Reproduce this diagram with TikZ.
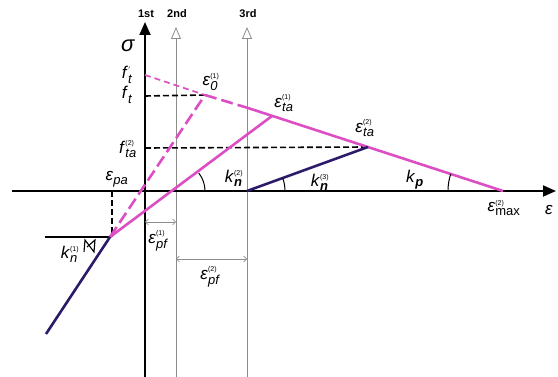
\documentclass[tikz,border=0pt]{standalone}
\usepackage{fontspec}
\setmainfont{Liberation Sans}
\usetikzlibrary{arrows.meta, angles}
\definecolor{curvepink}{RGB}{220,78,196}
\definecolor{curvenavy}{RGB}{45,25,105}
\newcommand{\lab}[3]{\textit{#1}$_{\hbox{\fontsize{13}{13}\selectfont\itshape #2}}^{\hbox{\fontsize{7}{7}\selectfont #3}}$}

\begin{document}
\begin{tikzpicture}[x=1pt, y=-1pt,
  axis/.style={line width=1.8pt, -{Triangle[length=13pt, width=11pt]}},
  guide/.style={black!45, line width=0.8pt, -{Triangle[open, length=12pt, width=10pt]}},
  pinkline/.style={curvepink, line width=2.6pt},
  navyline/.style={curvenavy, line width=2.6pt},
  refline/.style={line width=1.6pt, dash pattern=on 6pt off 3pt},
  dimarr/.style={black!45, line width=0.6pt, {Straight Barb[length=3pt]}-{Straight Barb[length=3pt]}},
  lbl/.style={font=\fontsize{17}{17}\selectfont, inner sep=0pt},
  head/.style={font=\bfseries\fontsize{11}{11}\selectfont, inner sep=0pt},
  mark/.style={line width=1pt, angle radius=#1}
]
\useasboundingbox (0,0) rectangle (558,377);

\coordinate (axL) at (12,191);
\coordinate (axR) at (556,191);
\coordinate (axB) at (145,377);
\coordinate (axT) at (145,22);
\coordinate (g2B) at (176,377);
\coordinate (g2T) at (176,27);
\coordinate (g3B) at (247,377);
\coordinate (g3T) at (247,27);
\coordinate (O2) at (176,191);
\coordinate (O3) at (247,191);
\coordinate (ftp) at (145,75);
\coordinate (ft) at (145,96);
\coordinate (fta) at (145,148);
\coordinate (E0) at (205,95);
\coordinate (Emid) at (248,108);
\coordinate (Eta1) at (272,116);
\coordinate (Eta2) at (368,147);
\coordinate (Emax) at (503,191);
\coordinate (knee) at (110,237);
\coordinate (kneeL) at (45,237);
\coordinate (kneeT) at (112,191);
\coordinate (kneeB) at (112,237);
\coordinate (low) at (46,334);
\coordinate (pf1L) at (145,222);
\coordinate (pf1R) at (176,222);
\coordinate (pf2L) at (176,259);
\coordinate (pf2R) at (247,259);

\draw[guide] (g2B) -- (g2T);
\draw[guide] (g3B) -- (g3T);
\draw[axis] (axL) -- (axR);
\draw[axis] (axB) -- (axT);

\draw[refline] (ft) -- (E0);
\draw[refline] (fta) -- (Eta2);
\draw[refline] (kneeT) -- (kneeB);
\draw[line width=1.4pt] (kneeL) -- (knee);

\draw[curvepink, line width=1.6pt, dash pattern=on 6pt off 4pt] (ftp) -- (E0);
\draw[pinkline, dash pattern=on 12pt off 5pt] (E0) -- (Emid);
\draw[pinkline] (Emid) -- (Emax);
\draw[pinkline, dash pattern=on 12pt off 5pt] (knee) -- (E0);
\draw[pinkline] (knee) -- (Eta1);
\draw[navyline] (low) -- (knee);
\draw[navyline] (O3) -- (Eta2);

\draw[dimarr] (pf1L) -- (pf1R);
\draw[dimarr] (pf2L) -- (pf2R);

\pic[draw, mark=29pt] {angle=O3--O2--Eta1};
\pic[draw, mark=38pt] {angle=Emax--O3--Eta2};
\pic[draw, mark=55pt] {angle=Eta2--Emax--O3};
\draw[line width=1.1pt] (84,252) -- (85,240) -- (94,252) -- (95,240) -- (87,247);

\node[head] (t1) at (146,14) {1st};
\node[head] (t2) at (177,14) {2nd};
\node[head] (t3) at (248,14) {3rd};

\node[lbl, font=\fontsize{22}{22}\selectfont] (sig) at (128,46) {\textit{σ}};
\node[lbl] (lftp) at (127,75) {\lab{f}{t}{$'$}};
\node[lbl] (lft) at (127,95) {\lab{f}{t}{}};
\node[lbl] (lfta) at (128,149) {\lab{f}{ta}{(2)}};
\node[lbl] (lpa) at (117,179) {\lab{ε}{pa}{}};
\node[lbl] (le0) at (211,82) {\lab{ε}{0}{(1)}};
\node[lbl] (leta1) at (284,103) {\lab{ε}{ta}{(1)}};
\node[lbl] (leta2) at (365,128) {\lab{ε}{ta}{(2)}};
\node[lbl] (lkn2) at (234,178) {\lab{k}{\bfseries n}{(2)}};
\node[lbl] (lkn3) at (320,182) {\lab{k}{\bfseries n}{(3)}};
\node[lbl] (lkp) at (415,180) {\lab{k}{\bfseries p}{}};
\node[lbl] (lmax) at (504,208) {\lab{ε}{\upshape max}{(2)}};
\node[lbl] (leps) at (549,210) {\textit{ε}};
\node[lbl] (lpf1) at (158,241) {\lab{ε}{pf}{(1)}};
\node[lbl] (lpf2) at (210,277) {\lab{ε}{pf}{(2)}};
\node[lbl] (lkn1) at (70,254) {\lab{k}{n}{(1)}};
\end{tikzpicture}
\end{document}
